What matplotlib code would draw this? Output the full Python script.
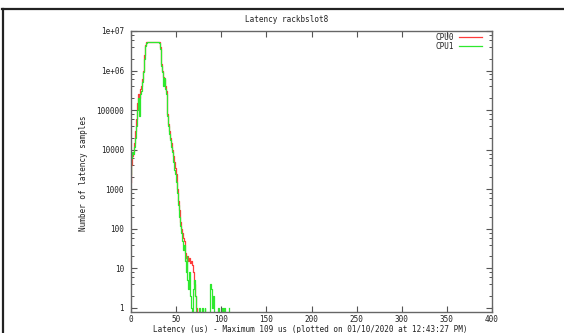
import numpy as np
import matplotlib
matplotlib.use("Agg")
import matplotlib.pyplot as plt
from matplotlib.ticker import FixedLocator, NullFormatter
from matplotlib.lines import Line2D

# ---------------- data ----------------
latency_us = list(range(0, 110))

plateau0 = [5300000, 5350000, 5300000, 5300000, 5320000, 5300000, 5280000,
            5300000, 5320000, 5300000, 5300000, 5280000, 5300000, 5250000]
plateau1 = [5200000, 5250000, 5200000, 5220000, 5200000, 5200000, 5180000,
            5200000, 5220000, 5200000, 5200000, 5180000, 5200000, 5150000]

cpu0 = ([1500, 4000, 7000, 9000, 15000, 30000, 60000, 150000, 250000, 200000,
         300000, 350000, 400000, 600000, 1000000, 2500000, 4500000, 5200000]
        + plateau0 +
        [5200000, 4000000, 1500000, 1000000, 700000, 600000, 400000, 300000,
         80000, 70000, 45000, 30000, 20000, 15000, 10000, 7000, 5000, 3500,
         2500, 1800, 1000, 500, 300, 150, 100, 80, 60, 50, 25, 18, 15, 20, 15,
         18, 14, 15, 12, 8, 4, 2, 1, 1]
        + [0] * 36)

cpu1 = ([2500, 6000, 9000, 8000, 12000, 20000, 40000, 100000, 200000, 70000,
         180000, 250000, 300000, 500000, 900000, 2000000, 4200000, 5100000]
        + plateau1 +
        [5100000, 3500000, 1300000, 900000, 400000, 650000, 350000, 250000,
         70000, 60000, 40000, 25000, 18000, 12000, 9000, 5000, 3000, 2500,
         1500, 1000, 800, 400, 200, 120, 80, 50, 30, 40, 15, 8, 20, 5, 3, 8,
         2, 1, 0, 3, 5, 2, 0, 0, 0, 0, 1, 0, 0, 1, 0, 0, 1, 0, 0, 0, 0, 0,
         4, 3, 1, 2, 0, 0, 0, 0, 0, 1, 0, 0, 0, 1, 0, 1, 1, 0, 0, 0, 0, 1])

series_labels = ["CPU0", "CPU1"]
series_colors = ["#ff3b3b", "#2ee82e"]

yticks = [1, 10, 100, 1000, 10000, 100000, 1e6, 1e7]
ytick_labels = ["1", "10", "100", "1000", "10000", "100000", "1e+06", "1e+07"]
xticks = [0, 50, 100, 150, 200, 250, 300, 350, 400]

title = "Latency rackbslot8"
xlabel = "Latency (us) - Maximum 109 us (plotted on 01/10/2020 at 12:43:27 PM)"
ylabel = "Number of latency samples"

# ---------------- figure ----------------
W, H = 564, 333
fig = plt.figure(figsize=(W / 100, H / 100), dpi=100)
fig.patch.set_facecolor("white")

FONT = "DejaVu Sans Mono"
FS = 5.5

def fx(px):
    return px / W

def fy(py):
    return 1 - py / H

# outer window frame (top and left edges)
fig.add_artist(Line2D([fx(2), fx(564)], [fy(9), fy(9)], color="#222222", lw=1.6,
                      transform=fig.transFigure))
fig.add_artist(Line2D([fx(2.5), fx(2.5)], [fy(9), fy(333)], color="#222222", lw=1.6,
                      transform=fig.transFigure))

left, right, top, bottom = 131, 492, 31, 312
ax = fig.add_axes([fx(left), fy(bottom), fx(right - left), fy(top) - fy(bottom)])

for lab, ys, col in zip(series_labels, [cpu0, cpu1], series_colors):
    ax.step(latency_us, ys, where="mid", color=col, lw=0.9, label=lab)

ax.set_yscale("log", nonpositive="clip")
ax.set_xlim(0, 400)
ax.set_ylim(0.79, 1e7)

ax.xaxis.set_major_locator(FixedLocator(xticks))
ax.set_xticklabels([str(t) for t in xticks])
ax.yaxis.set_major_locator(FixedLocator(yticks))
ax.set_yticklabels(ytick_labels)
minor = [m * 10 ** e for e in range(0, 7) for m in (2, 4, 6, 8)]
ax.yaxis.set_minor_locator(FixedLocator(minor))
ax.yaxis.set_minor_formatter(NullFormatter())
ax.xaxis.set_minor_locator(FixedLocator([]))

ax.tick_params(axis="both", which="major", direction="in", length=4, width=0.8,
               color="#555555", labelsize=FS, top=True, right=True)
ax.tick_params(axis="y", which="major", pad=5)
ax.tick_params(axis="x", which="major", pad=2.5)
ax.tick_params(axis="both", which="minor", direction="in", length=2, width=0.7,
               color="#555555", top=True, right=True)
for t in ax.get_xticklabels() + ax.get_yticklabels():
    t.set_family(FONT)
    t.set_color("#222222")
for s in ax.spines.values():
    s.set_color("#666666")
    s.set_linewidth(1.0)

fig.text(fx(287), fy(19), title, ha="center", va="center", family=FONT,
         fontsize=FS, color="#222222")
fig.text(fx(310), fy(329.5), xlabel, ha="center", va="center", family=FONT,
         fontsize=FS, color="#222222")
fig.text(fx(83), fy(173), ylabel, ha="center", va="center", rotation=90,
         family=FONT, fontsize=FS, color="#222222")

leg = ax.legend(loc="upper right", bbox_to_anchor=(fx(482), fy(32.5)),
                bbox_transform=fig.transFigure, frameon=False, markerfirst=False,
                prop={"family": FONT, "size": FS}, handlelength=3.0,
                handletextpad=0.6, labelspacing=0.05, borderpad=0,
                borderaxespad=0)
for t in leg.get_texts():
    t.set_color("#222222")

fig.savefig("out.png", dpi=100, facecolor="white")
